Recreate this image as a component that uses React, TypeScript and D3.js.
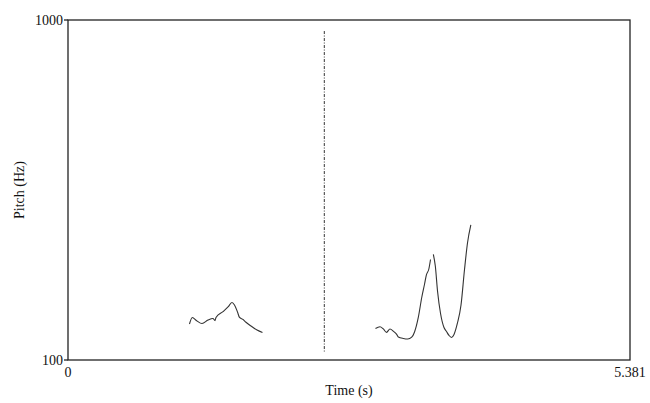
import React from "react";
import * as d3 from "d3";

const timeDomain: [number, number] = [0, 5.381];
const pitchDomain: [number, number] = [100, 1000];
const yTickValues = [100, 1000];
const xTickValues = [0, 5.381];
const xTickLabels = ["0", "5.381"];

// Pitch contour segments: [time (s), pitch (Hz)]
const segment1: [number, number][] = [
  [1.163, 127.6], [1.19, 133.4], [1.232, 130.5], [1.283, 128.0], [1.341, 131.1],
  [1.388, 132.5], [1.408, 130.6], [1.417, 133.4], [1.484, 138.7], [1.532, 143.2],
  [1.57, 147.6], [1.594, 145.1], [1.623, 138.4], [1.642, 133.4], [1.676, 131.6],
  [1.704, 129.1], [1.762, 125.3], [1.81, 122.5], [1.862, 120.5],
];
const segment2: [number, number][] = [
  [2.944, 123.8], [2.987, 125.3], [3.019, 123.4], [3.05, 120.6], [3.083, 123.4],
  [3.117, 121.4], [3.147, 119.0], [3.163, 116.9], [3.211, 115.7], [3.253, 115.3],
  [3.291, 116.7], [3.318, 120.9], [3.354, 133.4], [3.387, 152.7], [3.414, 167.3],
  [3.431, 177.8], [3.455, 185.2], [3.471, 197.5],
];
const segment3: [number, number][] = [
  [3.498, 204.6], [3.517, 189.0], [3.538, 159.6], [3.567, 137.0], [3.6, 124.6],
  [3.624, 121.3], [3.648, 118.1], [3.672, 116.5], [3.696, 118.9], [3.729, 128.5],
  [3.763, 145.1], [3.796, 183.9], [3.825, 220.9], [3.857, 249.8],
];
const segments = [segment1, segment2, segment3];

const boundaryTime = 2.454;
const boundaryRange: [number, number] = [105.6, 928];

export default function App() {
  const width = 650;
  const height = 403;
  const left = 68, right = 630, top = 20, bottom = 360;
  const x = d3.scaleLinear().domain(timeDomain).range([left, right]);
  const y = d3.scaleLog().domain(pitchDomain).range([bottom, top]);
  const line = d3
    .line<[number, number]>()
    .x((d) => x(d[0]))
    .y((d) => y(d[1]))
    .curve(d3.curveMonotoneX);
  const font = "'Liberation Serif', 'Times New Roman', serif";
  return (
    <svg
      width={width}
      height={height}
      style={{ position: "absolute", left: 0, top: 0, background: "#fff" }}
      fontFamily={font}
    >
      <rect x={0} y={0} width={width} height={height} fill="#fff" />
      {segments.map((s, i) => (
        <path key={i} d={line(s) || ""} fill="none" stroke="#333" strokeWidth={1.1} />
      ))}
      <line
        x1={x(boundaryTime)}
        x2={x(boundaryTime)}
        y1={y(boundaryRange[1])}
        y2={y(boundaryRange[0])}
        stroke="#333"
        strokeWidth={1}
        strokeDasharray="3 1.5 1 1.5"
      />
      <rect
        x={left}
        y={top}
        width={right - left}
        height={bottom - top}
        fill="none"
        stroke="#222"
        strokeWidth={1.3}
      />
      {yTickValues.map((v) => (
        <g key={v}>
          <line x1={left - 4} x2={left} y1={y(v)} y2={y(v)} stroke="#222" strokeWidth={1.3} />
          <text x={left - 5} y={y(v)} dy="0.35em" textAnchor="end" fontSize={14} fill="#111">
            {String(v)}
          </text>
        </g>
      ))}
      {xTickValues.map((v, i) => (
        <text key={v} x={x(v)} y={bottom + 17} textAnchor="middle" fontSize={14} fill="#111">
          {xTickLabels[i]}
        </text>
      ))}
      <text x={(left + right) / 2} y={395} textAnchor="middle" fontSize={14} fill="#111">
        Time (s)
      </text>
      <text
        transform={`translate(24, ${(top + bottom) / 2}) rotate(-90)`}
        textAnchor="middle"
        fontSize={14}
        fill="#111"
      >
        Pitch (Hz)
      </text>
    </svg>
  );
}
